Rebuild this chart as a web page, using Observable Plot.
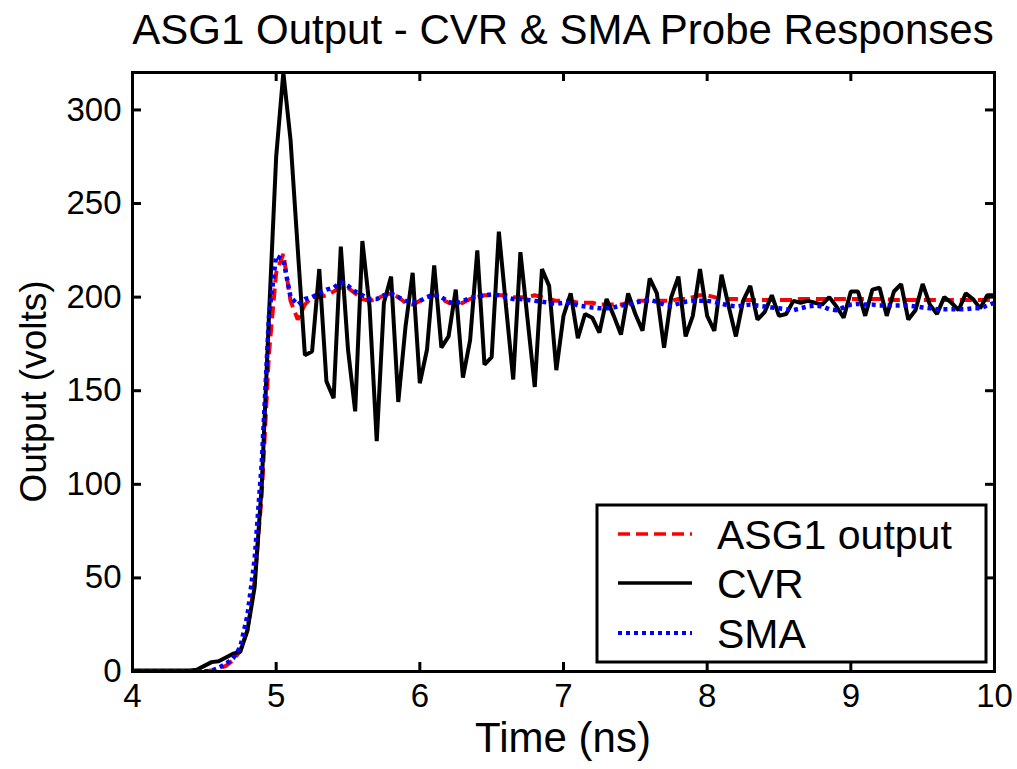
<!DOCTYPE html>
<html><head><meta charset="utf-8">
<script src="https://cdn.jsdelivr.net/npm/d3@7"></script>
<script src="https://cdn.jsdelivr.net/npm/@observablehq/plot@0.6"></script>
<style>body{margin:0;background:#fff} svg{display:block}</style>
</head><body><div id="chart"></div>
<script>
const titleText = "ASG1 Output - CVR & SMA Probe Responses";
const xLabel = "Time (ns)";
const yLabel = "Output (volts)";
const seriesNames = ["ASG1 output", "CVR", "SMA"];
const xTicks = [4, 5, 6, 7, 8, 9, 10];
const yTicks = [0, 50, 100, 150, 200, 250, 300];
const tStart = 4, tStep = 0.05; // sample grid (ns)

// CVR probe (black solid), one value per 0.05 ns from 4.00 to 10.00
const cvr = [
  0.5,0.5,0.5,0.5,0.5,0.5,0.5,0.5,0.5,1,3,5,5.5,7.5,9.5,10.5,22,45,100,190,
  275,320,284,226,169,171,215,155,146,227,172,139,230,195,123,197,211,144,184,213,
  154,172,217,173,179,204,157,177,225,164,168,235,195,156,224,188,152,215,206,161,
  190,202,178,191,189,181,199,190,180,202,191,182,210,202,173,200,211,179,190,215,
  190,182,212,195,179,198,206,188,192,201,190,191,198,197,198,197,196,200,195,189,
  203,203,190,204,205,190,203,207,188,193,207,196,191,200,197,193,202,199,194,201,
  201
];
// ASG1 output (red dashed)
const asg1 = [
  0,0,0,0,0,0,0,0,0,0,0,0.5,1.5,3,6,11,22,48,95,170,
  213,223,198,188,196,200,200,201,203,205,205,202,199,198,199,201,202,200,197,196,
  198,200,201,199,197,196,197,199,200,201,201,201,201,200,200,200,201,200,199,198,
  198,198,197,197,197,196,196,196,196,197,198,198,198,198,198,198,199,199,200,201,
  201,200,199,199,199,198.5,198.5,198.5,198.5,198.5,198.5,198.5,198.5,199,199,199,199,199,199,199,
  199,199,199,199,199,199,198.5,198.5,198.5,198.5,198.5,198.5,198.5,198.5,198.5,198.5,198.5,198.5,198.5,198.5,
  198.5
];
// SMA probe (blue dotted)
const sma = [
  0,0,0,0,0,0,0,0,0,0,0,0.5,2,4,7,13,30,60,112,190,
  222,220,200,196,199,200,202,204,205,208,206,203,201,199,199,201,202,200,198,197,
  198,200,201.5,200,197.5,196.5,198,199.5,200.5,201,201.5,201,200,199,199,198.5,198,197.5,197,196.5,
  197,197,195.5,195,194.5,194,194,194.5,195.5,196,197,198,198.5,197.5,196,195.5,196.5,197.5,198,198,
  198,197.5,196.5,195.5,195,195.5,196,195.5,195,194.5,194,193.5,193,194,195,195.5,195,193.5,193,194.5,
  196,196.5,196,196,195.5,195.5,195.5,195.5,195.5,195,194.5,194,193.5,193.5,193.5,193.5,193.5,194,194,195.5,
  197
];

const toRows = (vals, name) => vals.map((v, i) => ({t: +(tStart + i * tStep).toFixed(2), v, s: name}));
const rowsASG = toRows(asg1, seriesNames[0]);
const rowsCVR = toRows(cvr, seriesNames[1]);
const rowsSMA = toRows(sma, seriesNames[2]);

const W = 1017, H = 769;
const mL = 132, mR = 23, mT = 72, mB = 98;
const innerW = W - mL - mR, innerH = H - mT - mB;
const tickLen = 9;
const font = "'Liberation Sans', Arial, Helvetica, sans-serif";

const styles = [
  {stroke: "#ff0000", strokeWidth: 4, dash: "12,6"},
  {stroke: "#000000", strokeWidth: 4, dash: null},
  {stroke: "#0000ff", strokeWidth: 4.5, dash: "4,4"}
];
const lineOpts = s => ({x: "t", y: "v", stroke: s.stroke, strokeWidth: s.strokeWidth,
  strokeDasharray: s.dash, strokeLinecap: "butt", strokeLinejoin: "miter", clip: true});

const chart = Plot.plot({
  width: W, height: H,
  marginLeft: mL, marginRight: mR, marginTop: mT, marginBottom: mB,
  style: {fontFamily: font, fontSize: "33px", color: "#000", background: "#fff"},
  x: {domain: [4, 10], label: null},
  y: {domain: [0, 320], label: null},
  marks: [
    Plot.line(rowsASG, lineOpts(styles[0])),
    Plot.line(rowsCVR, lineOpts(styles[1])),
    Plot.line(rowsSMA, lineOpts(styles[2])),
    Plot.tickX(xTicks, {x: d => d, insetTop: innerH - tickLen, stroke: "#000", strokeWidth: 3}),
    Plot.tickX(xTicks, {x: d => d, insetBottom: innerH - tickLen, stroke: "#000", strokeWidth: 3}),
    Plot.tickY(yTicks, {y: d => d, insetRight: innerW - tickLen, stroke: "#000", strokeWidth: 3}),
    Plot.tickY(yTicks, {y: d => d, insetLeft: innerW - tickLen, stroke: "#000", strokeWidth: 3}),
    Plot.axisX({ticks: xTicks, tickFormat: d => String(d), tickSize: 0, tickPadding: 12, label: null, fontSize: 33}),
    Plot.axisY({ticks: yTicks, tickFormat: d => String(d), tickSize: 0, tickPadding: 11, label: null, fontSize: 33}),
    Plot.frame({stroke: "#000", strokeWidth: 3})
  ]
});
document.getElementById("chart").appendChild(chart);

const svg = d3.select(chart);
const addText = (x, y, txt, size, anchor, transform) => {
  const t = svg.append("text").attr("text-anchor", anchor)
    .style("font-family", font).style("font-size", size + "px").attr("fill", "#000").text(txt);
  if (transform) t.attr("transform", transform); else t.attr("x", x).attr("y", y);
  return t;
};
addText(mL + innerW / 2, 44, titleText, 42, "middle");
addText(mL + innerW / 2, 752, xLabel, 42, "middle");
addText(0, 0, yLabel, 37, "middle", `translate(46,${mT + innerH / 2 + 20}) rotate(-90)`);

// legend
const lg = svg.append("g");
lg.append("rect").attr("x", 597).attr("y", 505).attr("width", 389).attr("height", 157)
  .attr("fill", "#fff").attr("stroke", "#000").attr("stroke-width", 3);
const rowY = [534, 583, 633];
seriesNames.forEach((name, i) => {
  lg.append("line").attr("x1", 618).attr("x2", 692).attr("y1", rowY[i]).attr("y2", rowY[i])
    .attr("stroke", styles[i].stroke).attr("stroke-width", styles[i].strokeWidth - 0.5)
    .attr("stroke-dasharray", styles[i].dash);
  lg.append("text").attr("x", 717).attr("y", rowY[i] + 15).attr("text-anchor", "start")
    .style("font-family", font).style("font-size", "41px").attr("fill", "#000").text(name);
});
</script></body></html>
